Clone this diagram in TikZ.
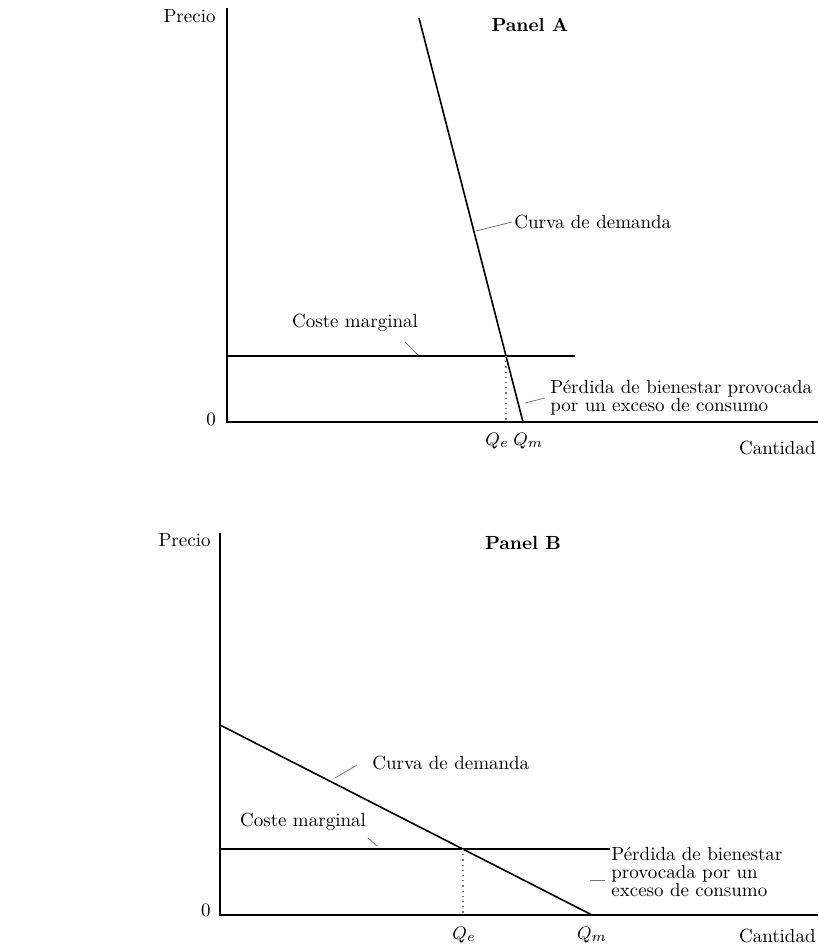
\documentclass[tikz,border=0pt]{standalone}
\usepackage{amsmath}
\usepackage{xcolor}
\usepackage{tikz}
\usetikzlibrary{calc,positioning}
\definecolor{leadgray}{HTML}{777777}
\definecolor{guidegray}{HTML}{777777}

\begin{document}
\begin{tikzpicture}[x=0.5pt,y=-0.5pt,
  axis/.style={line width=0.9pt},
  curve/.style={line width=0.8pt},
  leader/.style={leadgray,line width=0.4pt},
  guide/.style={guidegray,dotted,line width=0.6pt},
  lbl/.style={font=\fontsize{9.5}{10}\selectfont,inner sep=1pt},
  panel/.style={font=\fontsize{9.5}{10}\selectfont\bfseries,inner sep=1pt}]
\useasboundingbox (0,0) rectangle (819,950);
% Panel A
\coordinate (oA) at (227,422);
\coordinate (yA) at (227,8);
\coordinate (xA) at (818,422);
\coordinate (dA) at (419,18);
\coordinate (qmA) at (523,422);
\coordinate (mcA0) at (227,356);
\coordinate (mcA1) at (575,356);
\coordinate (eA) at (506,356);
\draw[axis] (yA)--(oA)--(xA);
\draw[curve] (mcA0)--(mcA1);
\draw[curve] (dA)--(qmA);
\draw[guide] (eA)--(eA |- oA);
\node[lbl,anchor=east] (precioA) at (218,16) {Precio};
\node[panel] (panelA) at (530,25) {Panel A};
\node[lbl,anchor=west] (curvaA) at (512,222) {Curva de demanda};
\coordinate (curvaAtip) at (476,231);
\draw[leader] (curvaA.west)--(curvaAtip);
\node[lbl] (costeA) at (355,323) {Coste marginal};
\coordinate (costeAfrom) at (405,342);
\coordinate (costeAtip) at (418,355);
\draw[leader] (costeAfrom)--(costeAtip);
\node[lbl,anchor=north west,align=left] (perdA) at (548,378)
  {P\'erdida de bienestar provocada\\[-1pt]por un exceso de consumo};
\coordinate (perdAfrom) at (545,398);
\coordinate (perdAtip) at (525,403);
\draw[leader] (perdAfrom)--(perdAtip);
\node[lbl] (qeA) at (497,441) {$Q_e$};
\node[lbl,right=0pt of qeA] (qmAl) {$Q_m$};
\node[lbl] (ceroA) at (211,419) {0};
\node[lbl,anchor=east] (cantA) at (818,448) {Cantidad};
% Panel B
\coordinate (oB) at (220,915);
\coordinate (yB) at (220,533);
\coordinate (xB) at (818,915);
\coordinate (dB) at (220,725);
\coordinate (qmB) at (592,915);
\coordinate (mcB0) at (220,849);
\coordinate (mcB1) at (610,849);
\coordinate (eB) at (463,849);
\draw[axis] (yB)--(oB)--(xB);
\draw[curve] (mcB0)--(mcB1);
\draw[curve] (dB)--(qmB);
\draw[guide] (eB)--(eB |- oB);
\node[lbl,anchor=east] (precioB) at (213,540) {Precio};
\node[panel] (panelB) at (523,543) {Panel B};
\node[lbl,anchor=west] (curvaB) at (370,763) {Curva de demanda};
\coordinate (curvaBfrom) at (357,765);
\coordinate (curvaBtip) at (335,778);
\draw[leader] (curvaBfrom)--(curvaBtip);
\node[lbl] (costeB) at (303,822) {Coste marginal};
\coordinate (costeBfrom) at (368,838);
\coordinate (costeBtip) at (377,846);
\draw[leader] (costeBfrom)--(costeBtip);
\node[lbl,anchor=north west,align=left] (perdB) at (609,845)
  {P\'erdida de bienestar\\[-1pt]provocada por un\\[-1pt]exceso de consumo};
\coordinate (perdBfrom) at (605,880);
\coordinate (perdBtip) at (590,880);
\draw[leader] (perdBfrom)--(perdBtip);
\node[lbl] (qeB) at (464,935) {$Q_e$};
\node[lbl] (qmBl) at (592,935) {$Q_m$};
\node[lbl] (ceroB) at (206,910) {0};
\node[lbl,anchor=east] (cantB) at (818,936) {Cantidad};
\end{tikzpicture}
\end{document}
